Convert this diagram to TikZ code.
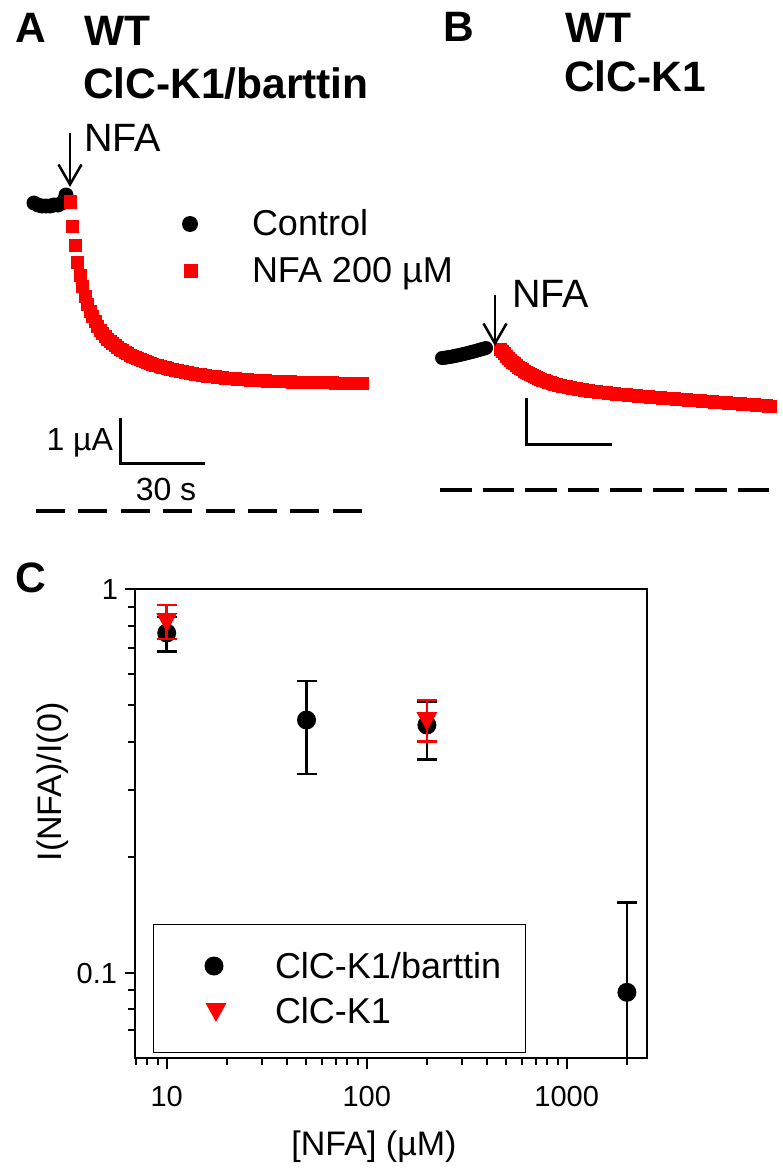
\documentclass[tikz,border=0pt]{standalone}
\usepackage{fontspec}
\setmainfont{Liberation Sans}
\usetikzlibrary{arrows.meta}
\definecolor{nfared}{RGB}{255,0,0}
\begin{document}
\begin{tikzpicture}[x=1pt,y=-1pt,
  every node/.style={inner sep=0pt,outer sep=0pt},
  ptitle/.style={font=\fontsize{42.5}{46}\selectfont\bfseries,anchor=base west},
  nfalbl/.style={font=\fontsize{39.5}{43}\selectfont,anchor=base west},
  legtxt/.style={font=\fontsize{36}{40}\selectfont,anchor=base west},
  sbtxt/.style={font=\fontsize{32}{36}\selectfont},
  ticktxt/.style={font=\fontsize{29}{33}\selectfont},
  axtxt/.style={font=\fontsize{34}{38}\selectfont},
  sbar/.style={line width=3pt},
  zeroline/.style={line width=3.5pt},
  nfaarrow/.style={line width=2.5pt,-{Straight Barb[length=20pt,width=23pt]}},
  errb/.style={line width=2.5pt},
  frame/.style={line width=2.7pt},
  tk/.style={line width=2pt}]
\fill[white] (0,0) rectangle (783,1169);
\useasboundingbox (0,0) rectangle (783,1169);

% ---------------- Panel A ----------------
\node[ptitle] (labA) at (15,43) {A};
\node[ptitle] (tAwt) at (84,46) {WT};
\node[ptitle] (tAclc) at (83,99) {ClC-K1/barttin};
\node[nfalbl] (nfaA) at (84,152) {NFA};
\coordinate (arrAs) at (70,133);
\coordinate (arrAe) at (70,187);
\draw[nfaarrow] (arrAs) -- (arrAe);
% control trace (black dots)
\foreach \px/\py in {34/203,38/205,42/206,46/206,50/206,54/205,58/205,62/203,65/199,66/195}
  \fill[black] (\px,\py) circle (7.5);
% NFA trace (red squares)
\foreach \i in {0,...,117} {
  \pgfmathsetmacro\dx{2.5*\i}
  \pgfmathsetmacro\yy{384-106*exp(-\dx/11.3)-76*exp(-\dx/61)}
  \fill[nfared] (70+\dx-6.5,\yy-6.5) rectangle ++(13,13);
}
% legend
\fill[black] (190,224) circle (8);
\fill[nfared] (183.5,264) rectangle ++(14,14);
\node[legtxt] (legCtrl) at (252,235) {Control};
\node[legtxt] (legNfa) at (252,282) {NFA 200 µM};
% scale bar
\coordinate (sbAt) at (120,418);
\coordinate (sbAc) at (120,463);
\coordinate (sbAr) at (205,463);
\draw[sbar] (sbAt) -- (sbAc) -- (sbAr);
\node[sbtxt,anchor=base east] (sbAy) at (113,450) {1 µA};
\node[sbtxt,anchor=base] (sbAx) at (166,500) {30 s};
\coordinate (zAl) at (36,511);
\coordinate (zAr) at (363,511);
\draw[zeroline,dash pattern=on 29pt off 13.4pt] (zAl) -- (zAr);

% ---------------- Panel B ----------------
\node[ptitle] (labB) at (443,42) {B};
\node[ptitle] (tBwt) at (565,43) {WT};
\node[ptitle] (tBclc) at (564,92) {ClC-K1};
\node[nfalbl] (nfaB) at (512,307) {NFA};
\coordinate (arrBs) at (495,295);
\coordinate (arrBe) at (495,346);
% control trace
\foreach \i in {0,...,22} {
  \pgfmathsetmacro\xx{442+2*\i}
  \pgfmathsetmacro\yy{358-10*((\xx-442)/44)^1.3}
  \fill[black] (\xx,\yy) circle (7);
}
% NFA trace
\foreach \i in {0,...,135} {
  \pgfmathsetmacro\dx{2*\i}
  \pgfmathsetmacro\yy{349+37.2*(1-exp(-\dx/30))+0.074*\dx}
  \fill[nfared] (500+\dx-6.5,\yy-6.5) rectangle ++(13,13);
}
\draw[nfaarrow] (arrBs) -- (arrBe);
\coordinate (sbBt) at (526,398);
\coordinate (sbBc) at (526,444);
\coordinate (sbBr) at (612,444);
\draw[sbar] (sbBt) -- (sbBc) -- (sbBr);
\coordinate (zBl) at (440,490);
\coordinate (zBr) at (769,490);
\draw[zeroline,dash pattern=on 31.5pt off 11pt] (zBl) -- (zBr);

% ---------------- Panel C ----------------
\node[ptitle] (labC) at (15,592) {C};
% y ticks (log): y = 589 - 384*log10(v)
\foreach \v in {0.9,0.8,0.7,0.6,0.5,0.4,0.3,0.2,0.09,0.08,0.07} {
  \pgfmathsetmacro\yy{589-384*log10(\v)}
  \draw[tk] (128,\yy) -- (135,\yy);
}
\draw[tk] (125,589) -- (135,589);
\draw[tk] (125,973) -- (135,973);
% x ticks (log): x = 166.7 + 200*(log10 v - 1)
\foreach \v in {7,8,9,20,30,40,50,60,70,80,90,200,300,400,500,600,700,800,900,2000} {
  \pgfmathsetmacro\xx{166.7+200*(log10(\v)-1)}
  \draw[tk] (\xx,1058) -- (\xx,1065);
}
\foreach \xx in {166.7,366.7,566.7}
  \draw[tk] (\xx,1058) -- (\xx,1069);
\draw[frame] (135,589) rectangle (647,1058);
% tick labels
\node[ticktxt,anchor=base east] (ty1) at (118,599) {1};
\node[ticktxt,anchor=base east] (ty01) at (117,983.5) {0.1};
\node[ticktxt,anchor=base] (tx10) at (166.7,1106.7) {10};
\node[ticktxt,anchor=base] (tx100) at (366.7,1106.7) {100};
\node[ticktxt,anchor=base] (tx1000) at (566.7,1106.7) {1000};
\node[axtxt,anchor=base] (xlab) at (374,1155) {[NFA] (µM)};
\node[axtxt,rotate=90] (ylab) at (53,782) {I(NFA)/I(0)};
% legend
\draw[line width=1.5pt] (153.3,924.3) rectangle (525.7,1052.7);
\fill[black] (214,966) circle (9.5);
\fill[nfared] (205.5,1003) -- (226.5,1003) -- (216,1022) -- cycle;
\node[legtxt] (legC1) at (275,978) {ClC-K1/barttin};
\node[legtxt] (legC2) at (275,1023) {ClC-K1};
% black data (ClC-K1/barttin)
\foreach \xx/\yc/\yt/\yb in {166.7/633/617/651.7, 306.5/720/681/774, 426.9/725/702/759.3} {
  \draw[errb] (\xx,\yt) -- (\xx,\yb);
  \draw[errb] (\xx-10,\yt) -- (\xx+10,\yt);
  \draw[errb] (\xx-10,\yb) -- (\xx+10,\yb);
  \fill[black] (\xx,\yc) circle (9.5);
}
\draw[errb] (626.9,902.7) -- (626.9,1058);
\draw[errb] (616.9,902.7) -- (636.9,902.7);
\fill[black] (626.9,992.3) circle (9.5);
% red data (ClC-K1)
\foreach \xx/\yc/\yt/\yb in {166.7/622/605/639, 426.9/721/700/741.7} {
  \draw[errb,nfared] (\xx,\yt) -- (\xx,\yb);
  \draw[errb,nfared] (\xx-10,\yt) -- (\xx+10,\yt);
  \draw[errb,nfared] (\xx-10,\yb) -- (\xx+10,\yb);
  \fill[nfared] (\xx-10.5,\yc-9) -- (\xx+10.5,\yc-9) -- (\xx,\yc+10) -- cycle;
}
\end{tikzpicture}
\end{document}
